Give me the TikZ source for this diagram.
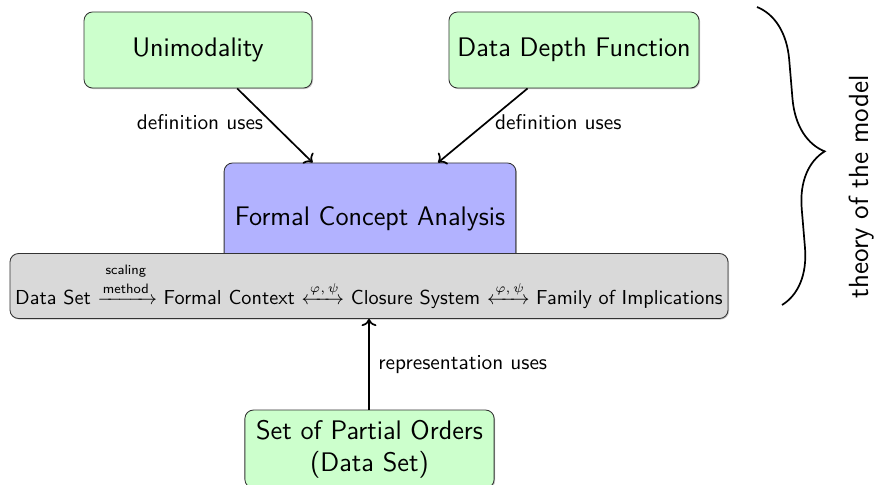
\documentclass[tikz,border=0pt]{standalone}
\usepackage{amsmath}
\usepackage{mathtools}
\usepackage{fontspec}
\usetikzlibrary{shadows,decorations.pathreplacing,arrows.meta}

% small labels set over the arrows of the chain
\newcommand{\arrowlabel}[1]{\text{\fontsize{6.4}{7}\selectfont #1}}

\tikzset{
  box/.style={draw=black!80, rounded corners=4pt, inner sep=0pt, align=center,
    font=\sffamily\fontsize{12.6}{15}\selectfont,
    drop shadow={shadow xshift=0.5pt, shadow yshift=-0.5pt, opacity=0.45}},
  greenbox/.style={box, fill=green!20},
  link/.style={->, thick},
  lbl/.style={font=\sffamily, inner sep=2pt},
}

\begin{document}
\begin{tikzpicture}[x=0.4695pt, y=-0.4695pt]
  \useasboundingbox (0,0) rectangle (877,484);

  % theory nodes
  \node[greenbox, minimum width=107pt, minimum height=35.7pt] (uni) at (198,50) {Unimodality};
  \node[greenbox, minimum width=117.4pt, minimum height=35.7pt] (ddf) at (574,50) {Data Depth Function};

  % FCA block, partly hidden by the chain below
  \node[box, fill=blue!30, minimum width=137pt, minimum height=52.6pt] (fca) at (370,219) {Formal Concept Analysis};

  % chain of equivalent representations
  \node[box, fill=gray!30, font=\sffamily\fontsize{9.5}{11}\selectfont, minimum width=337.1pt, minimum height=30.5pt] (chain) at (369,286)
    {Data Set $\xrightarrow{\arrowlabel{\shortstack{scaling\\method}}}$ Formal Context
     $\xleftrightarrow{\arrowlabel{$\varphi,\psi$}}$ Closure System
     $\xleftrightarrow{\arrowlabel{$\varphi,\psi$}}$ Family of Implications};

  % data set node
  \node[greenbox, minimum width=117pt, minimum height=36.6pt] (pos) at (369.5,449)
    {Set of Partial Orders\\(Data Set)};

  % connectors
  \draw[link] (uni) -- node[lbl, left, pos=0.46, xshift=-1.7pt] {definition uses} (fca);
  \draw[link] (ddf) -- node[lbl, right, pos=0.46, xshift=1.7pt] {definition uses} (fca);
  \draw[link] (pos.north -| chain.south) -- node[lbl, right, xshift=2pt] {representation uses} (chain.south);

  % brace grouping the theory
  \coordinate (btop) at (757,7);
  \coordinate (bbot) at (782,305);
  \draw[thick, decorate, decoration={brace, amplitude=26pt}] (btop) -- (bbot);
  \node[font=\sffamily\fontsize{13}{16}\selectfont, rotate=90] (theory) at (862,187) {theory of the model};
\end{tikzpicture}
\end{document}
